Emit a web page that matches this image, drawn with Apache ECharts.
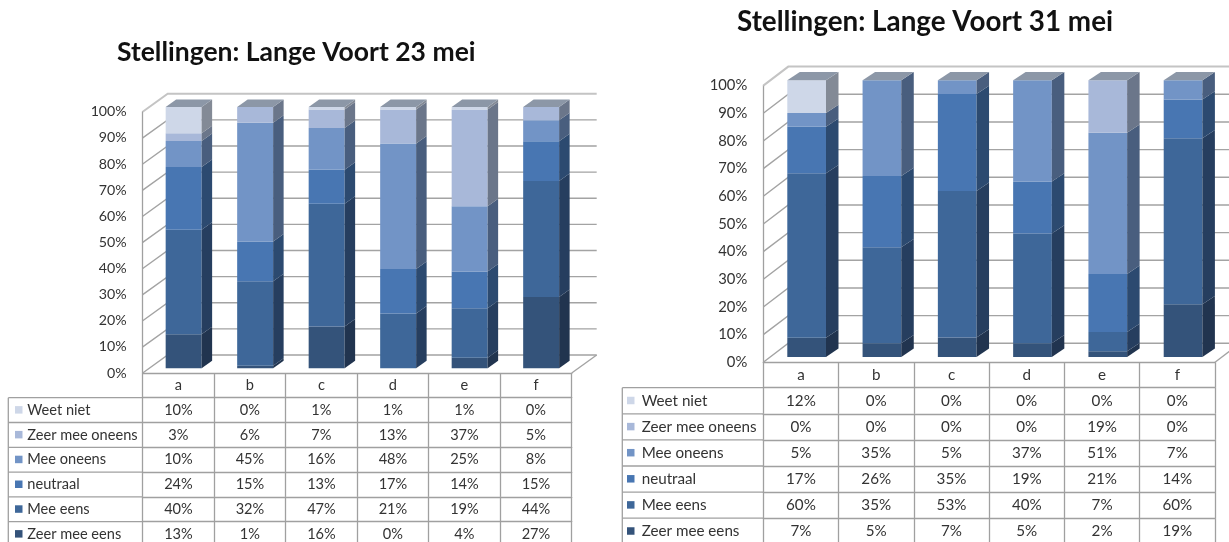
<!DOCTYPE html>
<html><head><meta charset="utf-8">
<script src="https://cdn.jsdelivr.net/npm/echarts@6/dist/echarts.min.js"></script>
<style>html,body{margin:0;padding:0;background:#fff}#c{width:1229px;height:542px}</style>
</head><body><div id="c"></div>
<script>
// ---------- DATA ----------
const categories = ['a', 'b', 'c', 'd', 'e', 'f'];
// series order from bottom of the stack to the top
const seriesNames = ['Zeer mee eens', 'Mee eens', 'neutraal', 'Mee oneens', 'Zeer mee oneens', 'Weet niet'];
const yTicks = [0, 10, 20, 30, 40, 50, 60, 70, 80, 90, 100];
const titles = ['Stellingen: Lange Voort 23 mei', 'Stellingen: Lange Voort 31 mei'];

// Chart 1: 23 mei
const may23_zeerMeeEens   = [13, 1, 16, 0, 4, 27];
const may23_meeEens       = [40, 32, 47, 21, 19, 44];
const may23_neutraal      = [24, 15, 13, 17, 14, 15];
const may23_meeOneens     = [10, 45, 16, 48, 25, 8];
const may23_zeerMeeOneens = [3, 6, 7, 13, 37, 5];
const may23_weetNiet      = [10, 0, 1, 1, 1, 0];

// Chart 2: 31 mei
const may31_zeerMeeEens   = [7, 5, 7, 5, 2, 19];
const may31_meeEens       = [60, 35, 53, 40, 7, 60];
const may31_neutraal      = [17, 26, 35, 19, 21, 14];
const may31_meeOneens     = [5, 35, 5, 37, 51, 7];
const may31_zeerMeeOneens = [0, 0, 0, 0, 19, 0];
const may31_weetNiet      = [12, 0, 0, 0, 0, 0];

// ---------- STYLE / LAYOUT ----------
const frontColors = ['#34537a', '#3e6799', '#4876b2', '#7294c6', '#a8b8d9', '#ced7e8'];
const sideColors  = ['#21344f', '#263e5f', '#2c4a70', '#495e7e', '#6b768a', '#838a96'];
const topColor = '#8c97a7';
const wallColor = '#a3a3a3';
const borderColor = '#a0a0a0';
const textColor = '#333333';
const FONT = 'Lato';

const charts = [
  { title: titles[0], titleX: 117, titleY: 39, titleFS: 26.5, fs: 14.6,
    values: [may23_zeerMeeEens, may23_meeEens, may23_neutraal, may23_meeOneens, may23_zeerMeeOneens, may23_weetNiet],
    gridLeft: 142.7, gridRight: 571.7, top: 111.7, bottom: 373,
    tableLeft: 8.3, headerH: 24.7, rowH: 24.8, keyX: 15, textX: 27.3,
    wall: [25, -18], front: [5.2, -4.7], barW: 0.503, depth: [10.5, -7.5] },
  { title: titles[1], titleX: 737, titleY: 8, titleFS: 27.8, fs: 15.2,
    values: [may31_zeerMeeEens, may31_meeEens, may31_neutraal, may31_meeOneens, may31_zeerMeeOneens, may31_weetNiet],
    gridLeft: 763.3, gridRight: 1215, top: 85.6, bottom: 362.3,
    tableLeft: 622.3, headerH: 25.4, rowH: 26.1, keyX: 627, textX: 641.7,
    wall: [25, -19], front: [5.7, -5.4], barW: 0.514, depth: [12.5, -8.3] }
];

const option = { animation: false, title: [], grid: [], xAxis: [], yAxis: [], series: [], graphic: [] };

charts.forEach((cfg, ci) => {
  const FS = cfg.fs;
  option.title.push({
    text: cfg.title, left: cfg.titleX, top: cfg.titleY, padding: 0,
    textStyle: { fontFamily: FONT, fontWeight: 'bold', fontSize: cfg.titleFS, color: '#111' }
  });
  option.grid.push({ left: cfg.gridLeft, top: cfg.top, width: cfg.gridRight - cfg.gridLeft, height: cfg.bottom - cfg.top });

  const xBase = option.xAxis.length;
  // header row (category labels)
  option.xAxis.push({
    type: 'category', gridIndex: ci, data: categories, position: 'bottom',
    axisLine: { show: true, lineStyle: { color: borderColor, width: 1.3 } },
    axisTick: { show: true, interval: 0, length: cfg.headerH, lineStyle: { color: borderColor, width: 1.3 } },
    axisLabel: { interval: 0, margin: cfg.headerH / 2, verticalAlign: 'middle', fontFamily: FONT, fontSize: FS, color: textColor },
    splitLine: { show: false }
  });
  // table rows, top to bottom = reversed stack order
  for (let r = 0; r < seriesNames.length; r++) {
    const vals = cfg.values[seriesNames.length - 1 - r];
    option.xAxis.push({
      type: 'category', gridIndex: ci, data: categories, position: 'bottom',
      offset: cfg.headerH + r * cfg.rowH,
      axisLine: { show: true, lineStyle: { color: borderColor, width: 1.3 } },
      axisTick: { show: true, interval: 0, length: cfg.rowH, lineStyle: { color: borderColor, width: 1.3 } },
      axisLabel: { interval: 0, margin: cfg.rowH / 2, verticalAlign: 'middle', fontFamily: FONT, fontSize: FS, color: textColor,
        formatter: (v, idx) => vals[idx] + '%' },
      splitLine: { show: false }
    });
  }
  option.yAxis.push({
    type: 'value', gridIndex: ci, min: 0, max: 100, interval: 10,
    axisLine: { show: true, lineStyle: { color: borderColor, width: 1.3 } },
    axisTick: { show: false }, splitLine: { show: false },
    axisLabel: { formatter: '{value}%', margin: 16, fontFamily: FONT, fontSize: FS - 0.4, color: textColor }
  });

  // back wall + side wall gridlines
  option.series.push({
    type: 'custom', xAxisIndex: xBase, yAxisIndex: ci, z: 1, silent: true,
    data: yTicks.map(v => [0, v]), encode: { x: 0, y: 1 },
    renderItem: (params, api) => {
      const cs = params.coordSys;
      const v = api.value(1);
      const y = api.coord([0, v])[1];
      const [dx, dy] = cfg.wall;
      const top = v === 100;
      const children = [{
        type: 'polyline',
        shape: { points: [[cs.x, y], [cs.x + dx, y + dy], [cs.x + cs.width + dx, y + dy]] },
        style: { stroke: top ? '#c4c4c4' : wallColor, lineWidth: top ? 2 : 1.4, fill: null }
      }];
      if (v === 0) {
        children.push({ type: 'line', shape: { x1: cs.x + cs.width, y1: y, x2: cs.x + cs.width + dx, y2: y + dy },
          style: { stroke: wallColor, lineWidth: 1.4 } });
      }
      return { type: 'group', children };
    }
  });

  // 100% stacked bars drawn as 3D blocks
  const totals = categories.map((_, j) => cfg.values.reduce((s, arr) => s + arr[j], 0));
  const cum = categories.map(() => 0);
  seriesNames.forEach((name, k) => {
    const data = categories.map((_, j) => {
      const base = cum[j];
      cum[j] += cfg.values[k][j] / totals[j] * 100;
      return [j, base, cum[j]];
    });
    option.series.push({
      type: 'custom', name, xAxisIndex: xBase, yAxisIndex: ci, z: 2 + k, silent: true,
      data, encode: { x: 0, y: [1, 2] },
      renderItem: (params, api) => {
        const cat = api.value(0), b = api.value(1), t = api.value(2);
        if (t - b <= 0.0001) return null;
        const bw = api.size([1, 0])[0];
        const cx = api.coord([cat, 0])[0];
        const w = bw * cfg.barW;
        const x0 = cx - w / 2 + cfg.front[0];
        const x1 = x0 + w;
        const yb = api.coord([cat, b])[1] + cfg.front[1];
        const yt = api.coord([cat, t])[1] + cfg.front[1];
        const [dx, dy] = cfg.depth;
        const children = [
          { type: 'rect', shape: { x: x0, y: yt, width: w, height: yb - yt }, style: { fill: frontColors[k] } },
          { type: 'polygon', shape: { points: [[x1, yt], [x1 + dx, yt + dy], [x1 + dx, yb + dy], [x1, yb]] }, style: { fill: sideColors[k] } }
        ];
        if (t >= 99.99) {
          children.push({ type: 'polygon', shape: { points: [[x0, yt], [x1, yt], [x1 + dx, yt + dy], [x0 + dx, yt + dy]] }, style: { fill: topColor } });
        }
        return { type: 'group', children };
      }
    });
  });

  // left column of the data table (series names with legend keys)
  const rowTop0 = cfg.bottom + cfg.headerH;
  for (let r = 0; r <= seriesNames.length; r++) {
    const y = rowTop0 + r * cfg.rowH;
    option.graphic.push({ type: 'line', silent: true, shape: { x1: cfg.tableLeft, y1: y, x2: cfg.gridLeft, y2: y },
      style: { stroke: borderColor, lineWidth: 1.3 } });
  }
  option.graphic.push({ type: 'line', silent: true,
    shape: { x1: cfg.tableLeft, y1: rowTop0, x2: cfg.tableLeft, y2: rowTop0 + seriesNames.length * cfg.rowH },
    style: { stroke: borderColor, lineWidth: 1.3 } });
  for (let r = 0; r < seriesNames.length; r++) {
    const k = seriesNames.length - 1 - r;
    const yc = rowTop0 + r * cfg.rowH + cfg.rowH / 2;
    option.graphic.push({ type: 'rect', silent: true, shape: { x: cfg.keyX, y: yc - 4, width: 7.5, height: 7.5 }, style: { fill: frontColors[k] } });
    option.graphic.push({ type: 'text', silent: true, x: cfg.textX, y: yc,
      style: { text: seriesNames[k], fontFamily: FONT, fontSize: FS, fill: textColor, verticalAlign: 'middle', align: 'left' } });
  }
});

const chart = echarts.init(document.getElementById('c'), null, { renderer: 'canvas' });
chart.setOption(option);
</script>
</body></html>
